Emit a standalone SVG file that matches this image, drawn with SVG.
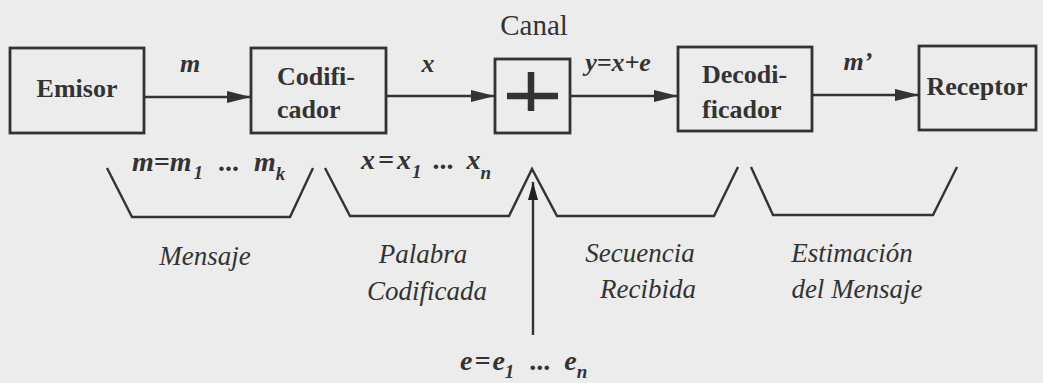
<svg xmlns="http://www.w3.org/2000/svg" width="1043" height="383" viewBox="0 0 1043 383">
<defs>
<marker id="ah" viewBox="0 0 24 12" refX="24" refY="6" markerWidth="24" markerHeight="12" markerUnits="userSpaceOnUse" orient="auto"><path d="M0,0 L24,6 L0,12 Z" fill="#333"/></marker>
<marker id="ahv" viewBox="0 0 18 10" refX="18" refY="5" markerWidth="18" markerHeight="10" markerUnits="userSpaceOnUse" orient="auto"><path d="M0,0 L18,5 L0,10 Z" fill="#222"/></marker>
<style>
.box{fill:none;stroke:#333;stroke-width:2.8}
.ln{fill:none;stroke:#333;stroke-width:2.4}
.br{fill:none;stroke:#333;stroke-width:2.4;stroke-linejoin:miter}
text{font-family:'Liberation Serif','Times New Roman',serif;fill:#333}
.bt{font-weight:bold;font-size:26px}
.mt{font-weight:bold;font-style:italic;font-size:26px}
.eq{font-weight:bold;font-style:italic;font-size:28px}
.sb{font-size:19px}
.it{font-style:italic;font-size:27px}
.rg{font-size:29px}
</style>
</defs>
<rect x="0" y="0" width="1043" height="383" fill="#ececec"/>

<g id="emisor">
<rect class="box" x="10" y="48" width="134" height="85"/>
<text class="bt" x="77" y="97" text-anchor="middle">Emisor</text>
</g>
<g id="codificador">
<rect class="box" x="251" y="48" width="135" height="85"/>
<text class="bt" x="277" y="85">Codifi-</text>
<text class="bt" x="277" y="118">cador</text>
</g>
<g id="canal">
<text class="rg" x="534" y="35" text-anchor="middle">Canal</text>
<rect class="box" x="495" y="59" width="75" height="74"/>
<path d="M507,96 H558 M531,72 V111" stroke="#333" stroke-width="6.5" fill="none"/>
</g>
<g id="decodificador">
<rect class="box" x="678" y="47" width="134" height="84"/>
<text class="bt" x="702" y="83">Decodi-</text>
<text class="bt" x="702" y="118">ficador</text>
</g>
<g id="receptor">
<rect class="box" x="919" y="46" width="117" height="84"/>
<text class="bt" x="977" y="95" text-anchor="middle">Receptor</text>
</g>

<g id="connectors">
<line class="ln" x1="144" y1="97" x2="251" y2="97" marker-end="url(#ah)"/>
<line class="ln" x1="386" y1="96" x2="495" y2="96" marker-end="url(#ah)"/>
<line class="ln" x1="570" y1="96" x2="678" y2="96" marker-end="url(#ah)"/>
<line class="ln" x1="812" y1="95" x2="919" y2="95" marker-end="url(#ah)"/>
<line class="ln" x1="533" y1="335" x2="533" y2="182" marker-end="url(#ahv)"/>
<text class="mt" x="190" y="72" text-anchor="middle">m</text>
<text class="mt" x="428" y="72" text-anchor="middle">x</text>
<text class="mt" x="618" y="71" text-anchor="middle">y=x+e</text>
<text class="mt" x="858" y="70" text-anchor="middle">m’</text>
</g>

<g id="brackets">
<path class="br" d="M107,168 L132,217 H290 L313,168"/>
<path class="br" d="M325,168 L350,216 H509 L532,169 L557,216 H714 L738,167"/>
<path class="br" d="M751,167 L773,215 H933 L957,167"/>
</g>

<g id="mensaje">
<text class="eq" x="132" y="171">m=m<tspan class="sb" dx="2" dy="8">1</tspan><tspan dx="16" dy="-8">...</tspan><tspan dx="14">m</tspan><tspan class="sb" dy="9">k</tspan></text>
<text class="it" x="205" y="265" text-anchor="middle">Mensaje</text>
</g>
<g id="palabra">
<text class="eq" x="361" y="169">x<tspan dx="3">=</tspan><tspan dx="3">x</tspan><tspan class="sb" dx="1" dy="9">1</tspan><tspan dx="12" dy="-9">...</tspan><tspan dx="12">x</tspan><tspan class="sb" dy="10">n</tspan></text>
<text class="it" x="423" y="263" text-anchor="middle">Palabra</text>
<text class="it" x="427" y="300" text-anchor="middle">Codificada</text>
</g>
<g id="secuencia">
<text class="it" x="640" y="262" text-anchor="middle">Secuencia</text>
<text class="it" x="648" y="298" text-anchor="middle">Recibida</text>
</g>
<g id="estimacion">
<text class="it" x="852" y="262" text-anchor="middle">Estimación</text>
<text class="it" x="857" y="298" text-anchor="middle">del Mensaje</text>
</g>
<g id="error">
<text class="eq" x="460" y="370">e<tspan dx="2">=</tspan><tspan dx="2">e</tspan><tspan class="sb" dy="8">1</tspan><tspan dx="16" dy="-8">...</tspan><tspan dx="13">e</tspan><tspan class="sb" dy="8">n</tspan></text>
</g>
</svg>
